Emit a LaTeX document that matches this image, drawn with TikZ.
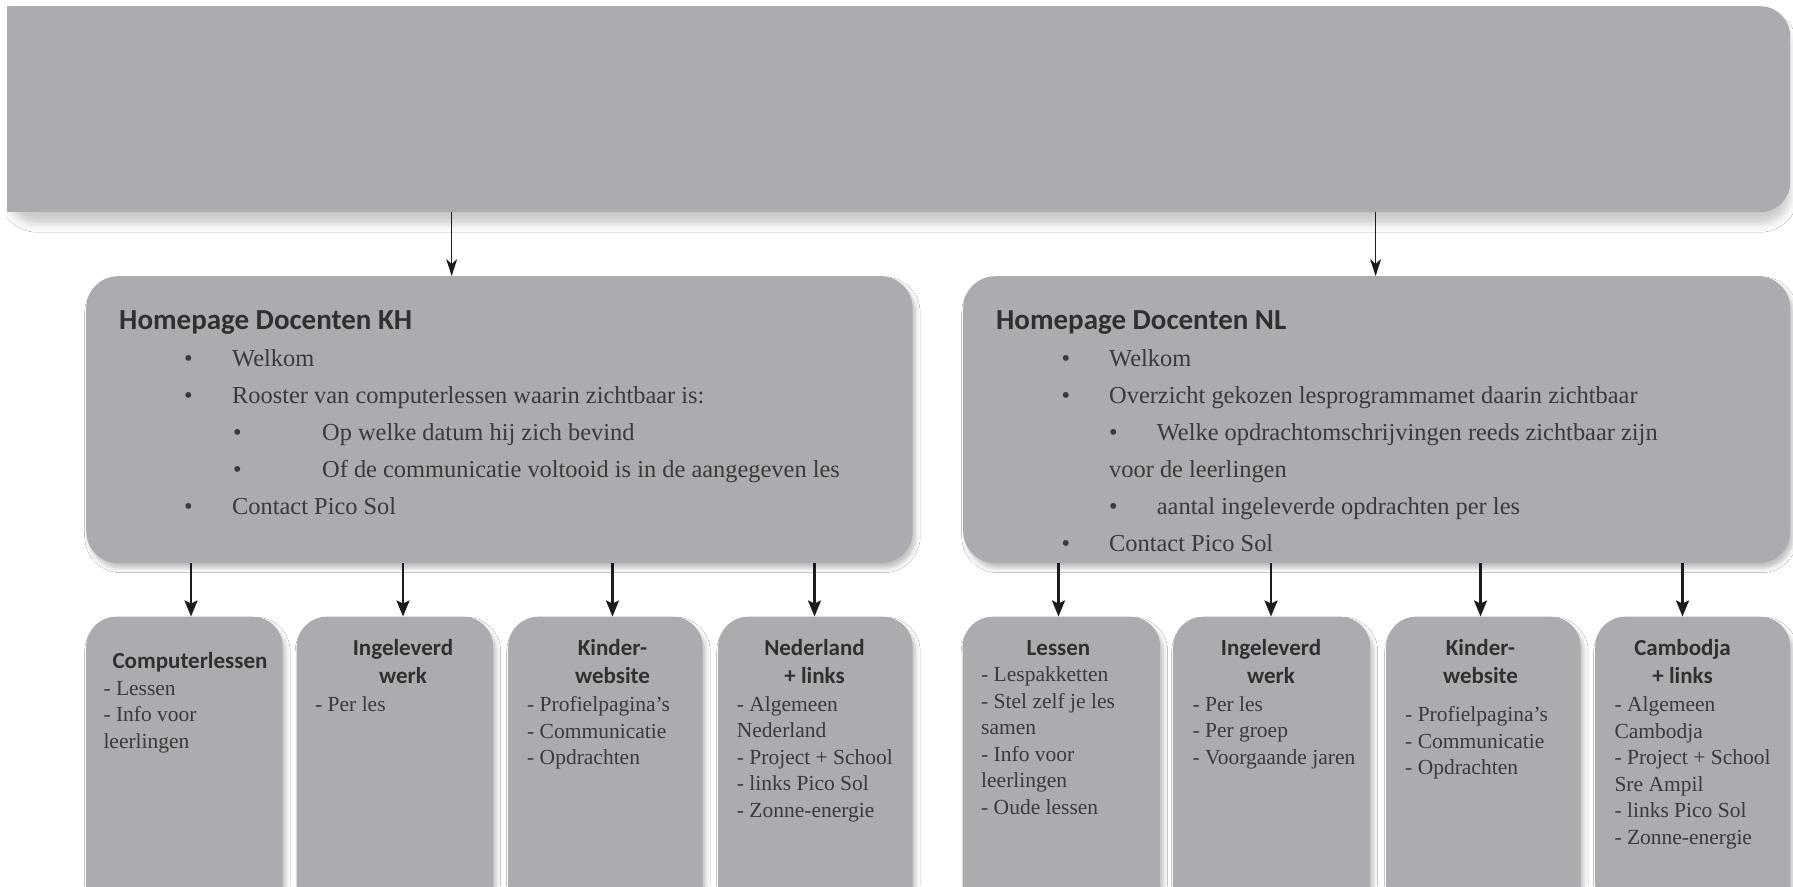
\documentclass[tikz,border=0pt]{standalone}
\usepackage{fontspec}
\setmainfont{Liberation Serif}
\newfontfamily\headfont{Carlito}
\usetikzlibrary{arrows.meta,shadows.blur}
\definecolor{boxgray}{RGB}{171,172,176}
\definecolor{ink}{RGB}{58,58,60}
\definecolor{headink}{RGB}{48,48,50}
\definecolor{arrowink}{RGB}{28,28,30}

\begin{document}
\begin{tikzpicture}[x=1pt,y=-1pt,
  panel/.style={fill=boxgray, draw=none, inner sep=0pt, anchor=north west,
    rounded corners=#1,
    blur shadow={shadow xshift=3pt, shadow yshift=-5pt,
      shadow blur radius=4.5pt, shadow opacity=25}},
  banner/.style={fill=boxgray, draw=none, inner sep=0pt, anchor=north west,
    rounded corners=30pt,
    blur shadow={shadow xshift=0pt, shadow yshift=-12pt,
      shadow blur radius=8pt, shadow opacity=20}},
  hptext/.style={inner sep=0pt, anchor=base west, text=ink,
    font=\fontsize{24.4}{37}\selectfont},
  subhead/.style={inner sep=0pt, anchor=base, text=headink,
    font=\headfont\bfseries\fontsize{23}{28}\selectfont},
  itemtext/.style={inner sep=0pt, anchor=base west, text=ink,
    font=\fontsize{21.5}{26.5}\selectfont},
  thinarrow/.style={draw=arrowink, line width=1pt,
    -{Stealth[length=17pt, width=11pt, inset=5pt]}},
  thickarrow/.style={draw=arrowink, line width=2.2pt,
    -{Stealth[length=16pt, width=13pt, inset=3pt]}},
]
\useasboundingbox (0,0) rectangle (1793,886);
\fill[white] (0,0) rectangle (1793,886);

% banner across the top: square on the left, rounded on the right;
% its shadow is kept from spilling past the left and upper edges
\begin{scope}
  \clip (7,6) rectangle (1793,886);
  \node[banner, minimum width=1783pt, minimum height=206pt] (top) at (7,6) {};
\end{scope}
\fill[boxgray] (top.north west) rectangle (top.south);

% the two homepage panels
\node[panel=32pt, minimum width=826.5pt, minimum height=287pt] (kh) at (86,276) {};
\node[panel=32pt, minimum width=827pt, minimum height=287pt] (nl) at (963,276) {};

% the eight section panels (they run past the lower edge)
\node[panel=30pt, minimum width=196.5pt, minimum height=300pt] (cl) at (86,616.5) {};
\node[panel=30pt, minimum width=196.5pt, minimum height=300pt] (il) at (296.5,616.5) {};
\node[panel=30pt, minimum width=194.5pt, minimum height=300pt] (kl) at (508,616.5) {};
\node[panel=30pt, minimum width=194.5pt, minimum height=300pt] (nd) at (718,616.5) {};
\node[panel=30pt, minimum width=197.5pt, minimum height=300pt] (le) at (962.5,616.5) {};
\node[panel=30pt, minimum width=197pt, minimum height=300pt] (ir) at (1173,616.5) {};
\node[panel=30pt, minimum width=194.5pt, minimum height=300pt] (kr) at (1386,616.5) {};
\node[panel=30pt, minimum width=195pt, minimum height=300pt] (ca) at (1595,616.5) {};

% arrows from the banner
\coordinate (t1) at (451.7,212);
\coordinate (t2) at (1375.6,212);
\draw[thinarrow] (t1) -- (kh.north -| t1);
\draw[thinarrow] (t2) -- (nl.north -| t2);

% arrows from the homepage panels
\coordinate (b1) at (191,563);
\coordinate (b2) at (403,563);
\coordinate (b3) at (612.5,563);
\coordinate (b4) at (814.5,563);
\coordinate (b5) at (1058.5,563);
\coordinate (b6) at (1271,563);
\coordinate (b7) at (1480.5,563);
\coordinate (b8) at (1682.5,563);
\draw[thickarrow] (b1) -- (cl.north -| b1);
\draw[thickarrow] (b2) -- (il.north -| b2);
\draw[thickarrow] (b3) -- (kl.north -| b3);
\draw[thickarrow] (b4) -- (nd.north -| b4);
\draw[thickarrow] (b5) -- (le.north -| b5);
\draw[thickarrow] (b6) -- (ir.north -| b6);
\draw[thickarrow] (b7) -- (kr.north -| b7);
\draw[thickarrow] (b8) -- (ca.north -| b8);

% homepage contents
\node[hptext] (khtext) at (119,329) {\parbox[t]{760pt}{\leavevmode
  {\headfont\bfseries\fontsize{29}{37}\selectfont\textcolor{headink}{Homepage Docenten KH}}\\
  \hspace*{64.8pt}\makebox[48.2pt][l]{\textbullet}Welkom\\
  \hspace*{64.8pt}\makebox[48.2pt][l]{\textbullet}Rooster van computerlessen waarin zichtbaar is:\\
  \hspace*{113.8pt}\makebox[89.2pt][l]{\textbullet}Op welke datum hij zich bevind\\
  \hspace*{113.8pt}\makebox[89.2pt][l]{\textbullet}Of de communicatie voltooid is in de aangegeven les\\
  \hspace*{64.8pt}\makebox[48.2pt][l]{\textbullet}Contact Pico Sol}};

\node[hptext] (nltext) at (995.9,329) {\parbox[t]{760pt}{\leavevmode
  {\headfont\bfseries\fontsize{29}{37}\selectfont\textcolor{headink}{Homepage Docenten NL}}\\
  \hspace*{65.6pt}\makebox[47.5pt][l]{\textbullet}Welkom\\
  \hspace*{65.6pt}\makebox[47.5pt][l]{\textbullet}Overzicht gekozen lesprogrammamet daarin zichtbaar\\
  \hspace*{112.9pt}\makebox[47.9pt][l]{\textbullet}Welke opdrachtomschrijvingen reeds zichtbaar zijn\\
  \hspace*{113.1pt}voor de leerlingen\\
  \hspace*{112.9pt}\makebox[47.9pt][l]{\textbullet}aantal ingeleverde opdrachten per les\\
  \hspace*{65.6pt}\makebox[47.5pt][l]{\textbullet}Contact Pico Sol}};

% section headings
\node[subhead] (clh) at (190,668) {\parbox[t]{190pt}{\centering Computerlessen}};
\node[subhead] (ilh) at (403,655) {\parbox[t]{190pt}{\centering Ingeleverd\\werk}};
\node[subhead] (klh) at (612.5,655) {\parbox[t]{190pt}{\centering Kinder-\\website}};
\node[subhead] (ndh) at (814.5,655) {\parbox[t]{190pt}{\centering Nederland\\+ links}};
\node[subhead] (leh) at (1058.5,655) {\parbox[t]{190pt}{\centering Lessen}};
\node[subhead] (irh) at (1271,655) {\parbox[t]{190pt}{\centering Ingeleverd\\werk}};
\node[subhead] (krh) at (1480.5,655) {\parbox[t]{190pt}{\centering Kinder-\\website}};
\node[subhead] (cah) at (1682.5,655) {\parbox[t]{190pt}{\centering Cambodja\\+ links}};

% section items
\node[itemtext] (cli) at (103.3,695) {\parbox[t]{180pt}{\raggedright
  - Lessen\\- Info voor\\leerlingen}};
\node[itemtext] (ili) at (315,711) {\parbox[t]{180pt}{\raggedright
  - Per les}};
\node[itemtext] (kli) at (527,711.5) {\parbox[t]{180pt}{\raggedright
  - Profielpagina’s\\- Communicatie\\- Opdrachten}};
\node[itemtext] (ndi) at (736.7,711) {\parbox[t]{180pt}{\raggedright
  - Algemeen\\Nederland\\- Project + School\\- links Pico Sol\\- Zonne-energie}};
\node[itemtext] (lei) at (981,681.7) {\parbox[t]{180pt}{\raggedright
  - Lespakketten\\- Stel zelf je les\\samen\\- Info voor\\leerlingen\\- Oude lessen}};
\node[itemtext] (iri) at (1192.3,711) {\parbox[t]{180pt}{\raggedright
  - Per les\\- Per groep\\- Voorgaande jaren}};
\node[itemtext] (kri) at (1405,721.7) {\parbox[t]{180pt}{\raggedright
  - Profielpagina’s\\- Communicatie\\- Opdrachten}};
\node[itemtext] (cai) at (1614.3,711.5) {\parbox[t]{180pt}{\raggedright
  - Algemeen\\Cambodja\\- Project + School\\Sre Ampil\\- links Pico Sol\\- Zonne-energie}};
\end{tikzpicture}
\end{document}
